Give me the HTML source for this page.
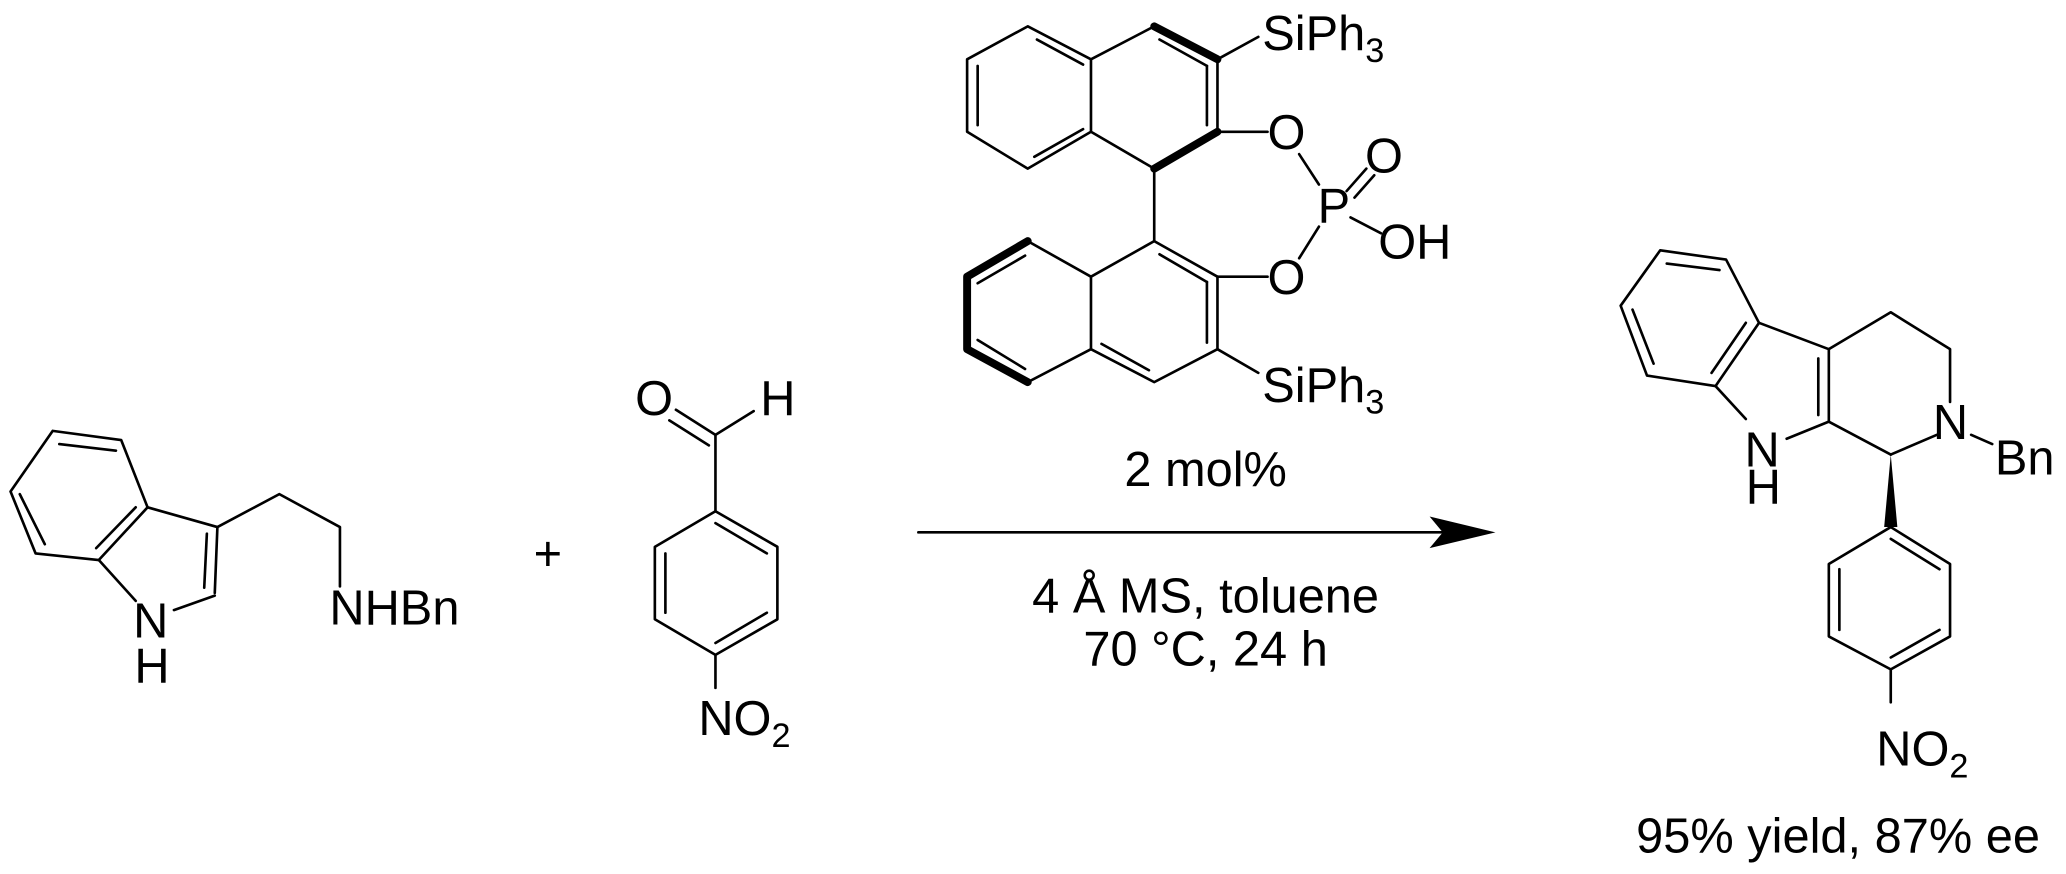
<!DOCTYPE html>
<html><head><meta charset="utf-8"><style>
html,body{margin:0;padding:0;background:#fff;}
svg{display:block;}
text{font-family:"Liberation Sans",Arial,sans-serif;fill:#000;}
</style></head><body>
<svg width="2066" height="874" viewBox="0 0 1568 663.3" preserveAspectRatio="none" xmlns="http://www.w3.org/2000/svg">
<g stroke="#000" stroke-width="2" fill="none" stroke-linecap="round" stroke-linejoin="round">
<polyline points="75,425 27,420 8,373 40,327 92,334 112,385 75,425"/>
<line x1="34" y1="413" x2="15" y2="375"/><line x1="45" y1="337" x2="88" y2="342"/><line x1="103" y1="385" x2="73" y2="416"/>
<line x1="112" y1="385" x2="165" y2="400"/><line x1="165" y1="400" x2="163" y2="450"/><line x1="157" y1="405" x2="155" y2="446"/>
<line x1="163" y1="452" x2="132" y2="463"/><line x1="75" y1="425" x2="103" y2="456"/>
<polyline points="165,400 212,375 258,400 258,445"/>
<polygon points="543,388 590,415 590,470 543,497 497,470 497,415"/>
<line x1="543" y1="397" x2="582" y2="420"/><line x1="582" y1="465" x2="543" y2="488"/><line x1="505" y1="465" x2="505" y2="420"/>
<line x1="543" y1="388" x2="543" y2="330"/><line x1="543" y1="330" x2="513" y2="311"/><line x1="538" y1="338" x2="508" y2="319"/>
<line x1="543" y1="330" x2="572" y2="312"/><line x1="543" y1="497" x2="543" y2="522"/>
<line x1="697" y1="404" x2="1095" y2="404"/>
<polyline points="828,45 876,20"/><polyline points="924,100 924,45"/><polyline points="876,128 828,100 828,45 780,20 734,45 734,100 780,128 828,100"/>
<line x1="880" y1="30" x2="916" y2="50"/><line x1="916" y1="50" x2="916" y2="95"/>
<line x1="787" y1="30" x2="822" y2="49"/><line x1="742" y1="50" x2="742" y2="95"/><line x1="785" y1="119" x2="822" y2="98"/>
<line x1="876" y1="128" x2="876" y2="183"/>
<line x1="924" y1="45" x2="955" y2="28"/><line x1="924" y1="100" x2="962" y2="100"/>
<line x1="986" y1="117" x2="1001" y2="140"/><line x1="986" y1="196" x2="1001" y2="172"/>
<line x1="1022" y1="145" x2="1037" y2="128"/><line x1="1028" y1="150" x2="1043" y2="133"/><line x1="1025" y1="165" x2="1048" y2="177"/>
<polygon points="876,183 924,210 924,265 876,290 828,265 828,210"/>
<line x1="880" y1="193" x2="916" y2="214"/><line x1="916" y1="214" x2="916" y2="260"/><line x1="872" y1="281" x2="836" y2="261"/>
<line x1="828" y1="210" x2="780" y2="183"/><line x1="780" y1="290" x2="828" y2="265"/>
<line x1="742" y1="215" x2="778" y2="194"/><line x1="742" y1="258" x2="778" y2="280"/>
<line x1="924" y1="210" x2="962" y2="210"/><line x1="924" y1="265" x2="955" y2="283"/>
<polygon points="1260,190 1310,197 1335,245 1302,293 1250,285 1230,232"/>
<line x1="1265" y1="200" x2="1305" y2="205"/><line x1="1325" y1="245" x2="1299" y2="283"/><line x1="1255" y1="276" x2="1239" y2="235"/>
<line x1="1335" y1="245" x2="1388" y2="265"/><line x1="1388" y1="265" x2="1388" y2="320"/><line x1="1380" y1="272" x2="1380" y2="315"/>
<line x1="1388" y1="320" x2="1356" y2="333"/><line x1="1302" y1="293" x2="1325" y2="318"/>
<polyline points="1388,265 1435,237 1480,265 1480,305"/><line x1="1470" y1="330" x2="1435" y2="345"/><line x1="1435" y1="345" x2="1388" y2="320"/>
<line x1="1496" y1="330" x2="1512" y2="337"/>
<polygon points="1435,400 1480,428 1480,483 1435,508 1388,483 1388,428"/>
<line x1="1435" y1="409" x2="1472" y2="432"/><line x1="1472" y1="478" x2="1435" y2="499"/><line x1="1396" y1="478" x2="1396" y2="432"/>
<line x1="1435" y1="508" x2="1435" y2="533"/>
</g>
<g stroke="#000" stroke-width="6" fill="none" stroke-linecap="round" stroke-linejoin="round">
<polyline points="876,20 924,45"/><polyline points="924,100 876,128"/>
<polyline points="780,183 734,210 734,265 780,290"/>
</g>
<polygon points="1085,392 1135,404 1085,416 1095,404" fill="#000"/>
<polygon points="1435,345 1430,400 1440,400" fill="#000"/>
<g font-size="37">
<text x="101" y="484">N</text><text x="102" y="518">H</text>
<text x="250" y="474">NHBn</text>
<text x="405" y="433">+</text>
<text x="482" y="315">O</text><text x="577" y="315">H</text>
<text x="530" y="558">NO<tspan font-size="26" dy="9">2</tspan></text>
<text x="915" y="369" text-anchor="middle">2 mol%</text>
<text x="915" y="465" text-anchor="middle">4 Å MS, toluene</text>
<text x="915" y="505" text-anchor="middle">70 °C, 24 h</text>
<text x="958" y="38">SiPh<tspan font-size="26" dy="9">3</tspan></text>
<text x="962" y="113">O</text><text x="1000" y="169">P</text><text x="1036" y="131">O</text><text x="1046" y="196">OH</text>
<text x="962" y="223">O</text>
<text x="958" y="305">SiPh<tspan font-size="26" dy="9">3</tspan></text>
<text x="1324" y="354">N</text><text x="1325" y="382">H</text>
<text x="1467" y="333">N</text><text x="1514" y="360">Bn</text>
<text x="1424" y="581">NO<tspan font-size="26" dy="9">2</tspan></text>
<text x="1395" y="647" text-anchor="middle">95% yield, 87% ee</text>
</g>
</svg>
</body></html>
